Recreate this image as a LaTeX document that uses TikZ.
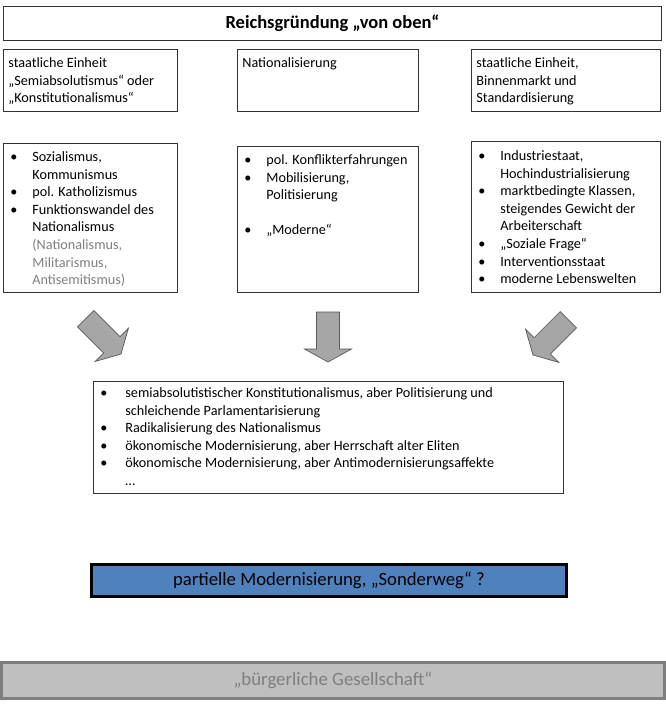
\documentclass[tikz,border=0pt]{standalone}
\usepackage{fontspec}
\setmainfont{Carlito}
\definecolor{bluefill}{HTML}{4F81BD}
\definecolor{arrowfill}{HTML}{A6A6A6}
\definecolor{arrowline}{HTML}{595959}
\definecolor{grayfill}{HTML}{BFBFBF}
\definecolor{graytext}{HTML}{7F7F7F}
\newcommand\fs{\fontsize{14.2}{17.6}\selectfont}
\newcommand\fl{\rule{0pt}{10pt}}
\newcommand\bitem[2][24pt]{\par\noindent\hangindent=#1\hangafter=1\makebox[#1][l]{\hspace{2pt}\textbullet}#2\par}
\newcommand\boxcontent[4]{\parbox[t][#2][t]{#1}{\fs\raggedright\vspace*{#3}#4}}
\tikzset{
  box/.style={draw=black!80, line width=0.8pt, rectangle, inner xsep=5pt, inner ysep=0pt, anchor=north west},
  barrow/.style={draw=arrowline, line width=0.7pt, fill=arrowfill, line join=miter}
}
\begin{document}
\begin{tikzpicture}[x=1pt,y=-1pt]
\useasboundingbox (0,0) rectangle (666,705);
% title
\node[draw=black!80, line width=0.8pt, minimum width=658pt, minimum height=34pt, anchor=north west, inner sep=0pt] (T) at (3,6)
  {\fontsize{18.5}{22}\selectfont\bfseries Reichsgründung „von oben“};
% row 2
\node[box] (L2) at (3,49) {\boxcontent{164pt}{62pt}{8pt}{\fl staatliche Einheit\newline „Semiabsolutismus“ oder\newline „Konstitutionalismus“}};
\node[box] (M2) at (237,49) {\boxcontent{171pt}{62pt}{8pt}{\fl Nationalisierung}};
\node[box] (R2) at (471,49) {\boxcontent{179pt}{62pt}{8pt}{\fl staatliche Einheit,\newline Binnenmarkt und\newline Standardisierung}};
% row 3
\node[box] (L3) at (3,143) {\boxcontent{164pt}{149pt}{8pt}{%
  \bitem{\fl Sozialismus,\newline Kommunismus}%
  \bitem{pol. Katholizismus}%
  \bitem{Funktionswandel des\newline Nationalismus\newline {\color{graytext}(Nationalismus,\newline Militarismus,\newline Antisemitismus)}}}};
\node[box] (M3) at (237,146) {\boxcontent{171pt}{146pt}{8pt}{%
  \bitem{\fl pol. Konflikterfahrungen}%
  \bitem{Mobilisierung,\newline Politisierung}%
  \vspace{17.6pt}%
  \bitem{„Moderne“}}};
\node[box] (R3) at (471,141) {\boxcontent{179pt}{151pt}{9pt}{%
  \bitem{\fl Industriestaat,\newline Hochindustrialisierung}%
  \bitem{marktbedingte Klassen,\newline steigendes Gewicht der\newline Arbeiterschaft}%
  \bitem{„Soziale Frage“}%
  \bitem{Interventionsstaat}%
  \bitem{moderne Lebenswelten}}};
% arrows
\draw[barrow, shift={(121,354)}, rotate=45] (0,0) -- (23.5,-13) -- (11.5,-13) -- (11.5,-50) -- (-11.5,-50) -- (-11.5,-13) -- (-23.5,-13) -- cycle;
\draw[barrow, shift={(328,362)}] (0,0) -- (23.5,-13) -- (11.5,-13) -- (11.5,-50) -- (-11.5,-50) -- (-11.5,-13) -- (-23.5,-13) -- cycle;
\draw[barrow, shift={(533,355)}, rotate=-45] (0,0) -- (23.5,-13) -- (11.5,-13) -- (11.5,-50) -- (-11.5,-50) -- (-11.5,-13) -- (-23.5,-13) -- cycle;
% result box
\node[box] (S) at (93,381) {\boxcontent{460pt}{112pt}{6pt}{%
  \bitem[27pt]{\fl semiabsolutistischer Konstitutionalismus, aber Politisierung und\newline schleichende Parlamentarisierung}%
  \bitem[27pt]{Radikalisierung des Nationalismus}%
  \bitem[27pt]{ökonomische Modernisierung, aber Herrschaft alter Eliten}%
  \bitem[27pt]{ökonomische Modernisierung, aber Antimodernisierungsaffekte}%
  \noindent\hspace{27pt}\ldots}};
% blue box
\node[draw=black, line width=3pt, fill=bluefill, minimum width=475pt, minimum height=32pt, inner sep=0pt] (B) at (329,580)
  {\fontsize{18.7}{22}\selectfont partielle Modernisierung, „Sonderweg“ ?};
% gray box
\node[draw=graytext, line width=3pt, fill=grayfill, minimum width=663pt, minimum height=36pt, inner sep=0pt, text=graytext] (G) at (333,680.5)
  {\fontsize{18.8}{22}\selectfont „bürgerliche Gesellschaft“};
\end{tikzpicture}
\end{document}
